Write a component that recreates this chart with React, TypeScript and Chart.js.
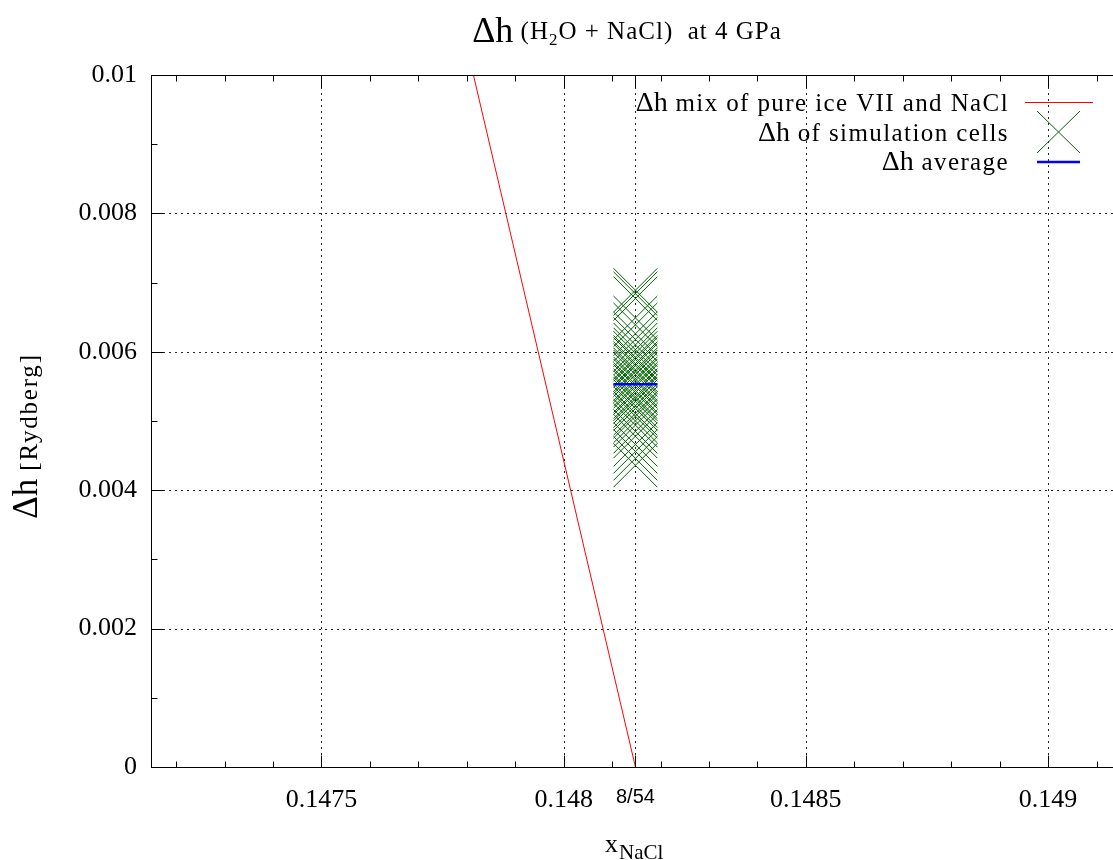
import React, { useEffect, useRef } from 'react';
import { Chart, registerables } from 'chart.js';

Chart.register(...registerables);

// ---- data ----
const X_SPECIAL = 8 / 54;
const xRange = [8 / 54 - 0.001, 0.149134];
const yRange = [0, 0.01];
const xMajorTicks = [0.1475, 0.148, 0.1485, 0.149];
const xTickLabels = ['0.1475', '0.148', '0.1485', '0.149'];
const specialTickLabel = '8/54';
const yMajorTicks = [0, 0.002, 0.004, 0.006, 0.008, 0.01];
const yTickLabels = ['0', '0.002', '0.004', '0.006', '0.008', '0.01'];

// Δh of a mix of pure ice VII and NaCl (straight line)
const mixLineX = [0.1478, 8 / 54];
const mixLineY = [0.01041, 0];

// Δh of simulation cells (all at x = 8/54)
const cellValues = [
  0.00689, 0.00684, 0.00677, 0.00649, 0.00639, 0.00626, 0.00618, 0.0061,
  0.00603, 0.00598, 0.00592, 0.00589, 0.00583, 0.0058, 0.00574, 0.00571,
  0.00567, 0.00561, 0.00558, 0.00553, 0.0055, 0.00544, 0.00541, 0.00535,
  0.00532, 0.00528, 0.00522, 0.00518, 0.00511, 0.00507, 0.005, 0.00494,
  0.00485, 0.00478, 0.00466, 0.00456, 0.00446, 0.00436,
];
const averageValue = 0.00553;

const legendLabels = [
  ' mix of pure ice VII and NaCl',
  ' of simulation cells',
  ' average',
];

const SERIF = '"Liberation Serif", "DejaVu Serif", serif';
const SANS = '"Liberation Sans", "DejaVu Sans", sans-serif';

const isSpecial = (v: number) => Math.abs(v - X_SPECIAL) < 1e-9;

const framePlugin = {
  id: 'gnuplotFrame',
  beforeDatasetsDraw(chart: any) {
    const { ctx, chartArea } = chart;
    const xs = chart.scales.x;
    const ys = chart.scales.y;
    const { left, right, top, bottom } = chartArea;
    ctx.save();
    ctx.strokeStyle = 'rgba(0,0,0,0.85)';
    ctx.lineWidth = 1;
    ctx.setLineDash([2, 4]);
    const gx = [...xMajorTicks, X_SPECIAL];
    gx.forEach((v) => {
      const px = Math.round(xs.getPixelForValue(v)) + 0.5;
      ctx.beginPath();
      ctx.moveTo(px, bottom);
      ctx.lineTo(px, top);
      ctx.stroke();
    });
    yMajorTicks.forEach((v) => {
      const py = Math.round(ys.getPixelForValue(v)) + 0.5;
      ctx.beginPath();
      ctx.moveTo(left, py);
      ctx.lineTo(right, py);
      ctx.stroke();
    });
    ctx.restore();
  },
  afterDatasetsDraw(chart: any) {
    const { ctx, chartArea } = chart;
    const xs = chart.scales.x;
    const ys = chart.scales.y;
    const { left, right, top, bottom } = chartArea;
    const L = Math.round(left) + 0.5;
    const T = Math.round(top) + 0.5;
    const B = Math.round(bottom) + 0.5;
    ctx.save();
    ctx.strokeStyle = '#000';
    ctx.lineWidth = 1;
    ctx.setLineDash([]);
    ctx.beginPath();
    ctx.moveTo(right, T);
    ctx.lineTo(L, T);
    ctx.lineTo(L, B);
    ctx.lineTo(right, B);
    ctx.stroke();
    // x ticks (bottom + mirrored top)
    const step = 0.0001;
    const k0 = Math.ceil(xs.min / step - 1e-6);
    const k1 = Math.floor(xs.max / step + 1e-6);
    const drawXTick = (v: number, len: number) => {
      const px = Math.round(xs.getPixelForValue(v)) + 0.5;
      ctx.beginPath();
      ctx.moveTo(px, B);
      ctx.lineTo(px, B - len);
      ctx.moveTo(px, T);
      ctx.lineTo(px, T + len);
      ctx.stroke();
    };
    for (let k = k0; k <= k1; k++) {
      drawXTick(k * step, k % 5 === 0 ? 12 : 6);
    }
    drawXTick(X_SPECIAL, 12);
    // y ticks
    for (let k = 0; k <= 10; k++) {
      const py = Math.round(ys.getPixelForValue(k * 0.001)) + 0.5;
      const len = k % 2 === 0 ? 12 : 6;
      ctx.beginPath();
      ctx.moveTo(L, py);
      ctx.lineTo(L + len, py);
      ctx.stroke();
    }
    ctx.restore();
  },
  afterDraw(chart: any) {
    const { ctx } = chart;
    ctx.save();
    ctx.fillStyle = '#000';
    ctx.textAlign = 'left';
    ctx.textBaseline = 'alphabetic';
    const setLS = (v: string) => {
      (ctx as any).letterSpacing = v;
    };
    // ---- title ----
    const parts = [
      { t: 'Δh', f: `36px ${SERIF}`, dy: 42, ls: '0px' },
      { t: ' (H', f: `25px ${SERIF}`, dy: 39, ls: '1px' },
      { t: '2', f: `17px ${SERIF}`, dy: 45, ls: '1px' },
      { t: 'O + NaCl)  at 4 GPa', f: `25px ${SERIF}`, dy: 39, ls: '1px' },
    ];
    let w = 0;
    parts.forEach((p) => {
      ctx.font = p.f;
      setLS(p.ls);
      w += ctx.measureText(p.t).width;
    });
    let x = 627 - w / 2;
    parts.forEach((p) => {
      ctx.font = p.f;
      setLS(p.ls);
      ctx.fillText(p.t, x, p.dy);
      x += ctx.measureText(p.t).width;
    });
    // ---- y axis title ----
    ctx.save();
    ctx.translate(37, 436);
    ctx.rotate(-Math.PI / 2);
    const yParts = [
      { t: 'Δh', f: `35px ${SERIF}`, ls: '0px' },
      { t: ' [Rydberg]', f: `25px ${SERIF}`, ls: '1.8px' },
    ];
    let yw = 0;
    yParts.forEach((p) => {
      ctx.font = p.f;
      setLS(p.ls);
      yw += ctx.measureText(p.t).width;
    });
    let yx = -yw / 2;
    yParts.forEach((p) => {
      ctx.font = p.f;
      setLS(p.ls);
      ctx.fillText(p.t, yx, 0);
      yx += ctx.measureText(p.t).width;
    });
    ctx.restore();
    setLS('0px');
    // ---- x axis title ----
    ctx.font = `26px ${SERIF}`;
    ctx.fillText('x', 605, 852);
    const xw = ctx.measureText('x').width;
    ctx.font = `21px ${SERIF}`;
    ctx.fillText('NaCl', 605 + xw + 1, 859);
    // ---- legend ----
    const textRight = 1009;
    const baselines = [110.5, 140.5, 170];
    const centers = [102, 132, 162];
    legendLabels.forEach((lab, i) => {
      ctx.font = `25px ${SERIF}`;
      setLS('1.4px');
      const lw = ctx.measureText(lab).width;
      ctx.fillText(lab, textRight - lw, baselines[i]);
      ctx.font = `28px ${SERIF}`;
      setLS('0px');
      const dw = ctx.measureText('Δh').width;
      ctx.fillText('Δh', textRight - lw - dw, baselines[i]);
    });
    // samples
    ctx.lineWidth = 1;
    ctx.strokeStyle = '#ff0000';
    ctx.beginPath();
    ctx.moveTo(1025, centers[0] + 0.5);
    ctx.lineTo(1093, centers[0] + 0.5);
    ctx.stroke();
    ctx.strokeStyle = '#006400';
    ctx.beginPath();
    ctx.moveTo(1037, centers[1] - 21);
    ctx.lineTo(1080, centers[1] + 21);
    ctx.moveTo(1037, centers[1] + 21);
    ctx.lineTo(1080, centers[1] - 21);
    ctx.stroke();
    ctx.strokeStyle = '#0000ff';
    ctx.lineWidth = 2.5;
    ctx.beginPath();
    ctx.moveTo(1037, centers[2]);
    ctx.lineTo(1080, centers[2]);
    ctx.stroke();
    ctx.restore();
  },
};

export default function App() {
  const ref = useRef<HTMLCanvasElement | null>(null);
  useEffect(() => {
    document.body.style.margin = '0';
    const canvas = ref.current;
    if (!canvas) return;
    const chart = new Chart(canvas, {
      type: 'scatter',
      data: {
        datasets: [
          {
            type: 'line',
            label: 'mix',
            data: mixLineX.map((xv, i) => ({ x: xv, y: mixLineY[i] })),
            borderColor: '#ff0000',
            borderWidth: 1,
            pointRadius: 0,
            fill: false,
            tension: 0,
            order: 3,
          } as any,
          {
            type: 'scatter',
            label: 'cells',
            data: cellValues.map((v) => ({ x: X_SPECIAL, y: v })),
            pointStyle: 'crossRot',
            pointRadius: 31,
            pointBorderColor: '#006400',
            borderColor: '#006400',
            pointBorderWidth: 1,
            borderWidth: 1,
            backgroundColor: 'transparent',
            order: 2,
          } as any,
          {
            type: 'scatter',
            label: 'average',
            data: [{ x: X_SPECIAL, y: averageValue }],
            pointStyle: 'line',
            pointRadius: 22,
            borderColor: '#0000ff',
            pointBorderColor: '#0000ff',
            borderWidth: 2.5,
            pointBorderWidth: 2.5,
            order: 1,
          } as any,
        ],
      },
      options: {
        responsive: false,
        animation: false,
        devicePixelRatio: 1,
        events: [],
        layout: { autoPadding: false, padding: { top: 75, left: 0, right: 0, bottom: 0 } },
        plugins: {
          legend: { display: false },
          title: { display: false },
          tooltip: { enabled: false },
        },
        scales: {
          x: {
            type: 'linear',
            min: xRange[0],
            max: xRange[1],
            afterBuildTicks: (scale: any) => {
              scale.ticks = [...xMajorTicks, X_SPECIAL]
                .sort((a, b) => a - b)
                .map((v) => ({ value: v }));
            },
            afterFit: (scale: any) => {
              scale.height = 93;
              scale.paddingLeft = 0;
              scale.paddingRight = 0;
            },
            ticks: {
              autoSkip: false,
              maxRotation: 0,
              minRotation: 0,
              padding: 18,
              color: '#000',
              font: (c: any) =>
                c.tick && isSpecial(c.tick.value)
                  ? { family: SANS, size: 20 }
                  : { family: SERIF, size: 26 },
              callback: (value: any) => {
                const v = Number(value);
                if (isSpecial(v)) return specialTickLabel;
                const i = xMajorTicks.findIndex((t) => Math.abs(t - v) < 1e-9);
                return i >= 0 ? xTickLabels[i] : '';
              },
            },
            grid: { display: false, drawTicks: false },
            border: { display: false },
          },
          y: {
            type: 'linear',
            min: yRange[0],
            max: yRange[1],
            afterBuildTicks: (scale: any) => {
              scale.ticks = yMajorTicks.map((v) => ({ value: v }));
            },
            afterFit: (scale: any) => {
              scale.width = 151;
              scale.paddingTop = 0;
              scale.paddingBottom = 0;
            },
            ticks: {
              autoSkip: false,
              padding: 14,
              color: '#000',
              font: { family: SERIF, size: 26 },
              callback: (_value: any, index: number) => yTickLabels[index],
            },
            grid: { display: false, drawTicks: false },
            border: { display: false },
          },
        },
      } as any,
      plugins: [framePlugin],
    });
    return () => {
      chart.destroy();
    };
  }, []);
  return (
    <div style={{ width: 1113, height: 860, overflow: 'hidden' }}>
      <canvas ref={ref} width={1113} height={860} style={{ display: 'block' }} />
    </div>
  );
}
